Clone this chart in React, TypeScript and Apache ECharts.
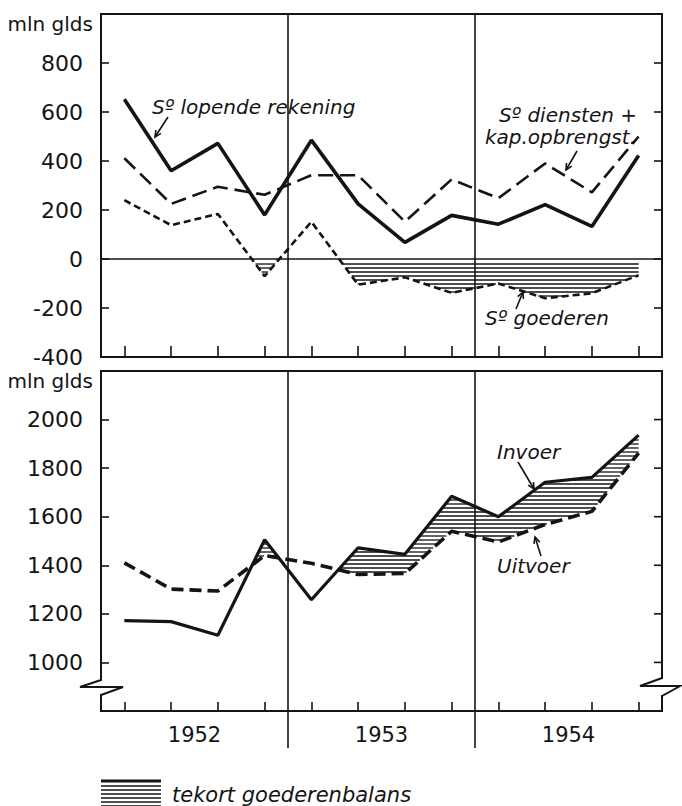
import React, { useEffect, useRef } from 'react';
import * as echarts from 'echarts';

// ---- data ----
const quarters = ['1952 I', '1952 II', '1952 III', '1952 IV', '1953 I', '1953 II', '1953 III', '1953 IV', '1954 I', '1954 II', '1954 III', '1954 IV'];
const years = ['1952', '1953', '1954'];
const yearCenters = [1.5, 5.5, 9.5];
const yearBoundaries = [3.5, 7.5];

const lopendeRekening = [652, 360, 472, 180, 485, 225, 68, 178, 142, 222, 133, 422];
const dienstenKapOpbrengst = [411, 225, 295, 262, 342, 342, 152, 325, 248, 390, 272, 500];
const goederen = [240, 138, 184, -70, 152, -105, -75, -138, -100, -160, -140, -66];

const invoer = [1172, 1168, 1112, 1505, 1258, 1472, 1445, 1684, 1600, 1742, 1762, 1936];
const uitvoer = [1410, 1302, 1294, 1440, 1408, 1362, 1366, 1540, 1496, 1568, 1622, 1862];

const topYLabels = [-400, -200, 0, 200, 400, 600, 800];
const bottomYLabels = [1000, 1200, 1400, 1600, 1800, 2000];

const INK = '#141414';
const FONT = "'DejaVu Sans', 'Noto Sans', sans-serif";

const pairs = (vals: number[]) => vals.map((v, i) => [i, v]);

// regions where upper > lower, as polygons in data space
function buildRuns(upper: number[], lower: number[]) {
  const runs: number[][][] = [];
  let top: number[][] | null = null;
  let bot: number[][] = [];
  const n = upper.length;
  for (let i = 0; i < n; i++) {
    const d = upper[i] - lower[i];
    if (d > 0) {
      if (!top) { top = []; bot = []; }
      top.push([i, upper[i]]);
      bot.push([i, lower[i]]);
    }
    if (i < n - 1) {
      const dn = upper[i + 1] - lower[i + 1];
      if ((d > 0) !== (dn > 0)) {
        const t = d / (d - dn);
        const c = [i + t, upper[i] + t * (upper[i + 1] - upper[i])];
        if (d > 0 && top) {
          top.push(c);
          runs.push(top.concat(bot.slice().reverse()));
          top = null; bot = [];
        } else {
          top = [c]; bot = [];
        }
      }
    }
  }
  if (top) runs.push(top.concat(bot.slice().reverse()));
  return runs;
}

function hatchLines(px: number[][], spacing: number) {
  let minY = Infinity, maxY = -Infinity;
  px.forEach((p) => { minY = Math.min(minY, p[1]); maxY = Math.max(maxY, p[1]); });
  const out: any[] = [];
  const start = Math.ceil((minY + 2) / spacing) * spacing;
  for (let y = start; y < maxY - 0.8; y += spacing) {
    const xs: number[] = [];
    for (let k = 0; k < px.length; k++) {
      const p = px[k], q = px[(k + 1) % px.length];
      if ((p[1] <= y && q[1] > y) || (q[1] <= y && p[1] > y)) {
        xs.push(p[0] + ((y - p[1]) * (q[0] - p[0])) / (q[1] - p[1]));
      }
    }
    xs.sort((a, b) => a - b);
    for (let k = 0; k + 1 < xs.length; k += 2) {
      out.push({ type: 'line', shape: { x1: xs[k], y1: y, x2: xs[k + 1], y2: y }, style: { stroke: INK, lineWidth: 1.3 } });
    }
  }
  return out;
}

function rightTicks(api: any, values: number[]) {
  return values.map((v) => {
    const p = api.coord([11.5, v]);
    return { type: 'line', shape: { x1: p[0] - 8, y1: p[1], x2: p[0], y2: p[1] }, style: { stroke: INK, lineWidth: 1.6 } };
  });
}

function arrow(x1: number, y1: number, x2: number, y2: number) {
  const ang = Math.atan2(y2 - y1, x2 - x1);
  const L = 7, a = 0.45;
  return [
    { type: 'line', z: 100, shape: { x1, y1, x2, y2 }, style: { stroke: INK, lineWidth: 1.6 } },
    {
      type: 'polyline', z: 100,
      shape: { points: [[x2 - L * Math.cos(ang - a), y2 - L * Math.sin(ang - a)], [x2, y2], [x2 - L * Math.cos(ang + a), y2 - L * Math.sin(ang + a)]] },
      style: { stroke: INK, lineWidth: 1.6, fill: null },
    },
  ];
}

function label(text: string, x: number, y: number, align: string = 'left', size = 20) {
  return {
    type: 'text', z: 100, x, y,
    style: { text, fill: INK, fontSize: size, fontStyle: 'italic', fontFamily: FONT, align, verticalAlign: 'middle' },
  };
}

function yAxisFor(grid: number, min: number, max: number, shown: number[]) {
  return {
    gridIndex: grid, type: 'value', min, max, interval: 200, position: 'left',
    splitLine: { show: false },
    axisTick: { show: true, inside: true, length: 8, lineStyle: { color: INK, width: 1.6 } },
    axisLine: { show: false, onZero: false },
    axisLabel: {
      show: true, margin: 18, color: INK, fontSize: 22, fontFamily: FONT,
      formatter: (v: number) => (shown.indexOf(v) >= 0 ? (v < 0 ? '-' + Math.abs(v) : String(v)) : ''),
    },
    name: 'mln glds', nameLocation: 'end', nameGap: -10,
    nameTextStyle: { color: INK, fontSize: 20, fontFamily: FONT, align: 'right', verticalAlign: 'middle', padding: [0, 8, 0, 0] },
  };
}

function xAxisFor(grid: number, tickLen: number, withLabels: boolean) {
  return {
    gridIndex: grid, type: 'value', min: -0.5, max: 11.5, position: 'bottom',
    axisLine: { show: false, onZero: false }, splitLine: { show: false },
    axisTick: { show: true, inside: true, length: tickLen, customValues: quarters.map((_, i) => i), lineStyle: { color: INK, width: 1.6 } },
    axisLabel: withLabels
      ? {
          show: true, customValues: yearCenters, margin: 13, color: INK, fontSize: 21, fontFamily: FONT,
          formatter: (v: number) => {
            const k = yearCenters.indexOf(v);
            return k >= 0 ? years[k] : '';
          },
        }
      : { show: false },
  };
}

export default function App() {
  const ref = useRef<HTMLDivElement>(null);
  useEffect(() => {
    document.body.style.margin = '0';
    const chart = echarts.init(ref.current!, null, { renderer: 'svg' });
    const zeros = goederen.map(() => 0);

    const topDecor = (params: any, api: any) => {
      const children: any[] = [];
      buildRuns(zeros, goederen).forEach((run) => {
        children.push(...hatchLines(run.map((p) => api.coord(p)), 4));
      });
      const a = api.coord([-0.5, 0]);
      const b = api.coord([11.5, 0]);
      children.push({ type: 'line', shape: { x1: a[0], y1: a[1], x2: b[0], y2: b[1] }, style: { stroke: INK, lineWidth: 1.6 } });
      yearBoundaries.forEach((bx) => {
        const t = api.coord([bx, 1000]);
        const u = api.coord([bx, -400]);
        children.push({ type: 'line', shape: { x1: t[0], y1: t[1], x2: u[0], y2: u[1] }, style: { stroke: INK, lineWidth: 1.6 } });
      });
      children.push(...rightTicks(api, topYLabels));
      return { type: 'group', children };
    };

    const bottomDecor = (params: any, api: any) => {
      const children: any[] = [];
      buildRuns(invoer, uitvoer).forEach((run) => {
        children.push(...hatchLines(run.map((p) => api.coord(p)), 4));
      });
      yearBoundaries.forEach((bx) => {
        const t = api.coord([bx, 2200]);
        const u = api.coord([bx, 800]);
        children.push({ type: 'line', shape: { x1: t[0], y1: t[1], x2: u[0], y2: u[1] + 37 }, style: { stroke: INK, lineWidth: 1.6 } });
      });
      children.push(...rightTicks(api, bottomYLabels));
      return { type: 'group', children };
    };

    const gridStyle = { show: true, borderColor: INK, borderWidth: 2, backgroundColor: 'transparent', containLabel: false };

    chart.setOption({
      animation: false,
      backgroundColor: '#fff',
      grid: [
        { ...gridStyle, left: 101, top: 14, width: 561, height: 343 },
        { ...gridStyle, left: 101, top: 371, width: 561, height: 340 },
      ],
      xAxis: [xAxisFor(0, 11, false), xAxisFor(1, 9, true)],
      yAxis: [yAxisFor(0, -400, 1000, topYLabels), yAxisFor(1, 800, 2200, bottomYLabels)],
      series: [
        { type: 'custom', name: 'decorTop', xAxisIndex: 0, yAxisIndex: 0, data: [[0, 0]], encode: { x: 0, y: 1 }, renderItem: topDecor, clip: false, silent: true, z: 1 },
        { type: 'custom', name: 'decorBottom', xAxisIndex: 1, yAxisIndex: 1, data: [[0, 1000]], encode: { x: 0, y: 1 }, renderItem: bottomDecor, clip: false, silent: true, z: 1 },
        { type: 'line', name: 'Sº lopende rekening', xAxisIndex: 0, yAxisIndex: 0, data: pairs(lopendeRekening), symbol: 'none', lineStyle: { color: INK, width: 3.6 }, z: 3 },
        { type: 'line', name: 'Sº diensten + kap.opbrengst.', xAxisIndex: 0, yAxisIndex: 0, data: pairs(dienstenKapOpbrengst), symbol: 'none', lineStyle: { color: INK, width: 2.6, type: [15, 7] }, z: 3 },
        { type: 'line', name: 'Sº goederen', xAxisIndex: 0, yAxisIndex: 0, data: pairs(goederen), symbol: 'none', lineStyle: { color: INK, width: 2.6, type: [7, 4] }, z: 3 },
        { type: 'line', name: 'Invoer', xAxisIndex: 1, yAxisIndex: 1, data: pairs(invoer), symbol: 'none', lineStyle: { color: INK, width: 3.2 }, z: 3 },
        { type: 'line', name: 'Uitvoer', xAxisIndex: 1, yAxisIndex: 1, data: pairs(uitvoer), symbol: 'none', lineStyle: { color: INK, width: 3.6, type: [12, 6] }, z: 3 },
      ],
      graphic: [
        // axis breaks
        { type: 'rect', z: 99, shape: { x: 97, y: 681, width: 8, height: 13 }, style: { fill: '#fff' } },
        { type: 'polyline', z: 100, shape: { points: [[101, 680], [80, 687], [123, 687], [101, 695]] }, style: { stroke: INK, lineWidth: 2, fill: null } },
        { type: 'rect', z: 99, shape: { x: 658, y: 679, width: 8, height: 16 }, style: { fill: '#fff' } },
        { type: 'polyline', z: 100, shape: { points: [[662, 678], [640, 686], [680, 686], [662, 696]] }, style: { stroke: INK, lineWidth: 2, fill: null } },
        // annotations
        label('Sº lopende rekening', 152, 107),
        ...arrow(168, 117, 155, 137),
        label('Sº diensten +', 637, 115, 'right'),
        label('kap.opbrengst.', 636, 137, 'right'),
        ...arrow(577, 151, 566, 170),
        label('Sº goederen', 485, 318),
        ...arrow(516, 309, 523, 292),
        label('Invoer', 497, 452),
        ...arrow(518, 462, 534, 489),
        label('Uitvoer', 497, 566),
        ...arrow(541, 556, 535, 537),
        // legend swatch
        { type: 'line', z: 100, shape: { x1: 101, y1: 781, x2: 161, y2: 781 }, style: { stroke: INK, lineWidth: 3 } },
        ...[786, 790, 794, 798, 802, 806].map((y) => ({ type: 'line', z: 100, shape: { x1: 101, y1: y, x2: 161, y2: y }, style: { stroke: INK, lineWidth: 1.3 } })),
        label('tekort goederenbalans', 172, 795, 'left', 21),
      ],
    });
    return () => chart.dispose();
  }, []);
  return <div ref={ref} style={{ width: 682, height: 806 }} />;
}
